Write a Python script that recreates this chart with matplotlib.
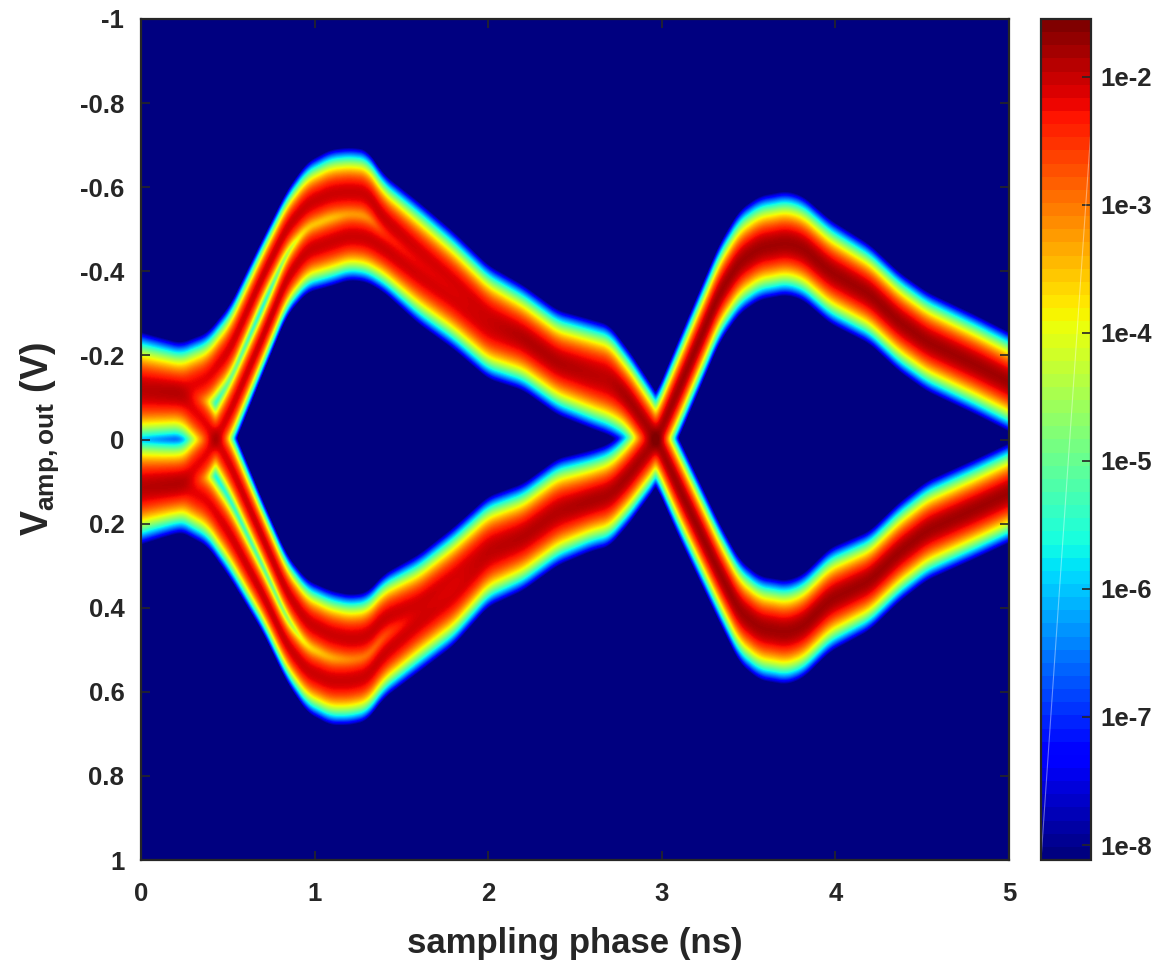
import numpy as np
import matplotlib
matplotlib.use("Agg")
import matplotlib.pyplot as plt
from matplotlib.cm import ScalarMappable
from matplotlib.colors import LogNorm

plt.rcParams["font.family"] = ["Liberation Sans"]
plt.rcParams["font.weight"] = "bold"
plt.rcParams["mathtext.fontset"] = "custom"
plt.rcParams["mathtext.bf"] = "Liberation Sans:bold"
plt.rcParams["mathtext.rm"] = "Liberation Sans:bold"
plt.rcParams["mathtext.it"] = "Liberation Sans:bold"

# values: centre of each eye branch (V) at each phase (ns)
phase = [0, .225, .38, .51, .70, .84, .955, 1.09, 1.2, 1.3, 1.4, 1.6, 1.8, 2.0, 2.2, 2.4, 2.6, 2.7, 2.8, 2.97,
         3.105, 3.335, 3.45, 3.565, 3.72, 3.815, 3.97, 4.2, 4.37, 4.53, 4.815, 5.0]
eye2_low = [.12, .319, .41, .449, .46, .445, .382, .336, .268, .217, .164, .128]
eye2_up = [-.127, -.35, -.423, -.456, -.468, -.456, -.40, -.346, -.28, -.233, -.177, -.138]
outer_up = [-.13, -.115, -.145, -.215, -.39, -.505, -.56, -.585, -.59, -.585, -.525, -.45, -.38, -.30, -.253,
            -.193, -.17, -.158, -.103, 0] + eye2_low
inner_up = [.105, .105, .035, -.065, -.245, -.385, -.45, -.47, -.485, -.48, -.455, -.39, -.33, -.259, -.232,
            -.173, -.14, -.125, -.10, 0] + eye2_low
outer_low = [.125, .105, .145, .225, .37, .49, .55, .575, .575, .565, .51, .438, .376, .283, .245,
             .185, .15, .14, .09, 0] + eye2_up
inner_low = [-.105, -.105, -.035, .06, .235, .365, .435, .465, .475, .47, .425, .389, .324, .25, .22,
             .16, .14, .125, .09, 0] + eye2_up
# width of the branches (V) and peak level (log10 of probability)
sigma = [.024, .022, .021, .02, .017, .017, .019, .02, .02, .02, .02, .022, .022, .022, .022, .022,
         .022, .022, .022, .021, .022, .022, .023, .023, .023, .023, .023, .022, .022, .022, .022, .022]
peak = [-2.15, -2.15, -2.15, -2.05, -2.0, -2.0, -2.0, -2.0, -2.0, -2.0, -2.0, -2.05, -2.1, -2.1, -2.1, -2.1,
        -2.1, -2.1, -2.1, -2.1, -2.05, -2.05, -2.05, -2.05, -2.05, -2.05, -2.05, -2.05, -2.05, -2.05, -2.05, -2.05]

x_ticks = [0, 1, 2, 3, 4, 5]
y_ticks = [-1, -0.8, -0.6, -0.4, -0.2, 0, 0.2, 0.4, 0.6, 0.8, 1]
y_labels = ["-1", "-0.8", "-0.6", "-0.4", "-0.2", "0", "0.2", "0.4", "0.6", "0.8", "1"]
cbar_ticks = [1e-8, 1e-7, 1e-6, 1e-5, 1e-4, 1e-3, 1e-2]
cbar_labels = ["1e-8", "1e-7", "1e-6", "1e-5", "1e-4", "1e-3", "1e-2"]

ink = "#262626"


def follow(values, t):
    # knots to a smooth curve over t
    line = np.interp(t, phase, values)
    n = 15
    padded = np.pad(line, n, mode="reflect", reflect_type="odd")
    return np.convolve(padded, np.ones(n) / n, mode="same")[n:-n]


t = np.linspace(0, 5, 868)
v = np.linspace(-1, 1, 841)
grid = np.zeros((len(v), len(t)))
s = follow(sigma, t)
top = follow(peak, t)
for branch in [outer_up, inner_up, outer_low, inner_low]:
    c = follow(branch, t)
    grid += 10 ** top[None, :] * np.exp(-(v[:, None] - c[None, :]) ** 2 / (2 * s[None, :] ** 2))

vmin = 10 ** -8.117
vmax = 10 ** -1.55
grid = np.clip(grid, vmin, vmax)
norm = LogNorm(vmin, vmax)

fig = plt.figure(figsize=(11.55, 9.66), dpi=100)
ax = fig.add_axes([141 / 1155, 1 - 860 / 966, 868 / 1155, 841 / 966])
cax = fig.add_axes([1041 / 1155, 1 - 860 / 966, 50 / 1155, 841 / 966])

ax.pcolormesh(t, v, grid, cmap="jet", norm=norm, shading="auto", rasterized=True)
ax.set_xlim(0, 5)
ax.set_ylim(1, -1)
ax.set_xticks(x_ticks)
ax.set_yticks(y_ticks)
ax.set_yticklabels(y_labels)
ax.tick_params(direction="in", length=6.5, width=1.2, color=ink, labelcolor=ink, labelsize=18.5,
               top=True, right=True)
ax.tick_params(axis="x", pad=16)
ax.tick_params(axis="y", pad=12)
ax.set_xlabel("sampling phase (ns)", fontsize=25, fontweight="bold", color=ink, labelpad=15)
ax.set_ylabel(r"$\mathbf{V_{amp,out}}$ (V)", fontsize=27, fontweight="bold", color=ink, labelpad=14)

cb = fig.colorbar(ScalarMappable(norm=norm, cmap=plt.get_cmap("jet", 64)), cax=cax)
cb.set_ticks(cbar_ticks)
cb.set_ticklabels(cbar_labels)
cb.minorticks_off()
cax.tick_params(direction="in", length=6.5, width=1.2, color=ink, labelcolor=ink, labelsize=18.5, pad=7)
cax.plot([0, 1], [0, 0.87], color="white", alpha=0.4, lw=0.8, transform=cax.transAxes)

for spine in ax.spines.values():
    spine.set_linewidth(1.6)
    spine.set_color(ink)
cb.outline.set_linewidth(1.6)
cb.outline.set_edgecolor(ink)

fig.savefig("out.png", dpi=100)
